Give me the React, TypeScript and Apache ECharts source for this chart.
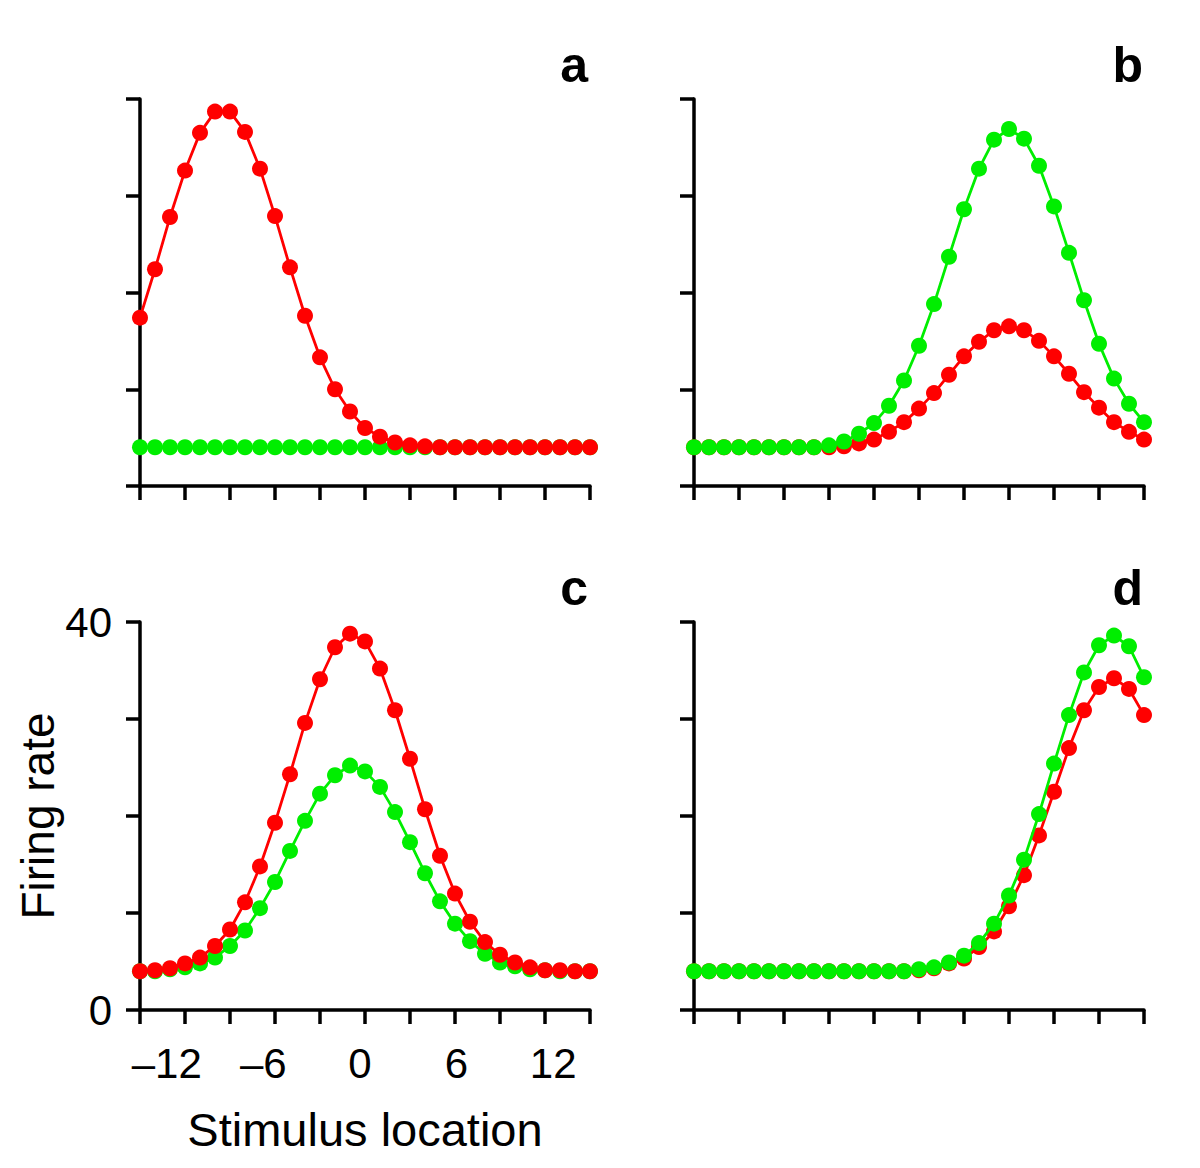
import React, { useEffect, useRef } from "react";
import * as echarts from "echarts";

// Stimulus locations (x) shared by every panel
const stimulusX = [
  -15, -14, -13, -12, -11, -10, -9, -8, -7, -6, -5, -4, -3, -2, -1, 0,
  1, 2, 3, 4, 5, 6, 7, 8, 9, 10, 11, 12, 13, 14, 15,
];
const xTickLabels = [-12, -6, 0, 6, 12];
const yTickLabels = [0, 40];
const panelLabels = ["a", "b", "c", "d"];

// Panel a
const aRed = [
  17.4, 22.4, 27.8, 32.6, 36.5, 38.7, 38.7, 36.6, 32.8, 27.9, 22.6, 17.6, 13.3, 10.0, 7.7, 6.0,
  5.1, 4.5, 4.2, 4.1, 4.0, 4.0, 4.0, 4.0, 4.0, 4.0, 4.0, 4.0, 4.0, 4.0, 4.0,
];
const aGreen = [
  4.0, 4.0, 4.0, 4.0, 4.0, 4.0, 4.0, 4.0, 4.0, 4.0, 4.0, 4.0, 4.0, 4.0, 4.0, 4.0,
  4.0, 4.0, 4.0, 4.0, 4.0, 4.0, 4.0, 4.0, 4.0, 4.0, 4.0, 4.0, 4.0, 4.0, 4.0,
];

// Panel b
const bRed = [
  4.0, 4.0, 4.0, 4.0, 4.0, 4.0, 4.0, 4.0, 4.0, 4.0, 4.1, 4.4, 4.8, 5.6, 6.6, 8.0,
  9.6, 11.5, 13.4, 14.9, 16.1, 16.5, 16.1, 15.0, 13.4, 11.6, 9.7, 8.1, 6.6, 5.6, 4.8,
];
const bGreen = [
  4.0, 4.0, 4.0, 4.0, 4.0, 4.0, 4.0, 4.0, 4.0, 4.2, 4.6, 5.4, 6.5, 8.3, 10.9, 14.5,
  18.8, 23.7, 28.6, 32.8, 35.8, 36.9, 35.9, 33.1, 28.9, 24.1, 19.2, 14.7, 11.1, 8.5, 6.6,
];

// Panel c
const cRed = [
  4.0, 4.1, 4.3, 4.8, 5.4, 6.6, 8.3, 11.1, 14.8, 19.3, 24.3, 29.6, 34.1, 37.4, 38.8, 38.0,
  35.2, 30.9, 25.9, 20.7, 15.9, 12.0, 9.1, 7.0, 5.7, 4.9, 4.4, 4.1, 4.1, 4.0, 4.0,
];
const cGreen = [
  4.0, 4.0, 4.2, 4.4, 4.8, 5.4, 6.6, 8.2, 10.5, 13.2, 16.4, 19.5, 22.3, 24.2, 25.2, 24.6,
  23.0, 20.4, 17.3, 14.1, 11.2, 8.9, 7.1, 5.8, 4.9, 4.5, 4.2, 4.1, 4.0, 4.0, 4.0,
];

// Panel d
const dRed = [
  4.0, 4.0, 4.0, 4.0, 4.0, 4.0, 4.0, 4.0, 4.0, 4.0, 4.0, 4.0, 4.0, 4.0, 4.0, 4.1,
  4.3, 4.8, 5.3, 6.5, 8.1, 10.7, 13.9, 18.0, 22.5, 27.0, 30.9, 33.3, 34.2, 33.1, 30.4,
];
const dGreen = [
  4.0, 4.0, 4.0, 4.0, 4.0, 4.0, 4.0, 4.0, 4.0, 4.0, 4.0, 4.0, 4.0, 4.0, 4.0, 4.2,
  4.4, 4.9, 5.6, 6.9, 8.9, 11.8, 15.5, 20.2, 25.4, 30.4, 34.8, 37.6, 38.6, 37.5, 34.3,
];

const RED = "#ff0000";
const GREEN = "#00ee00";
const FONT = "'Liberation Sans', Arial, Helvetica, sans-serif";

export default function App() {
  const ref = useRef<HTMLDivElement>(null);

  useEffect(() => {
    if (!ref.current) return;
    const chart = echarts.init(ref.current, null, { renderer: "svg" });

    const grids = [
      { left: 140, top: 99, width: 450, height: 387 },
      { left: 694, top: 99, width: 450, height: 387 },
      { left: 140, top: 622, width: 450, height: 388 },
      { left: 694, top: 622, width: 450, height: 388 },
    ];

    const axisLine = { show: true, onZero: false, lineStyle: { color: "#000", width: 3.5 } };
    const axisTick = { show: true, inside: false, length: 14, lineStyle: { color: "#000", width: 3.5 } };

    const xAxes: any[] = grids.map((_, i) => ({
      type: "value",
      gridIndex: i,
      min: -15,
      max: 15,
      interval: 3,
      axisLine,
      axisTick,
      axisLabel: { show: false },
      splitLine: { show: false },
      ...(i === 2
        ? {
            name: "Stimulus location",
            nameLocation: "middle",
            nameGap: 96,
            nameTextStyle: { fontSize: 47, color: "#000", fontFamily: FONT },
          }
        : {}),
    }));
    // label-only axis for panel c (labels as placed in the original figure)
    xAxes.push({
      type: "value",
      gridIndex: 2,
      position: "bottom",
      min: -13.66,
      max: 14.29,
      axisLine: { show: false, onZero: false },
      axisTick: { show: false },
      splitLine: { show: false },
      axisLabel: {
        show: true,
        customValues: xTickLabels,
        formatter: (v: number) => String(v).replace("-", "\u2013"),
        fontSize: 42,
        color: "#000",
        fontFamily: FONT,
        margin: 32,
      },
    });

    const yAxes: any[] = grids.map((_, i) => ({
      type: "value",
      gridIndex: i,
      min: 0,
      max: 40,
      interval: 10,
      axisLine,
      axisTick,
      splitLine: { show: false },
      axisLabel:
        i === 2
          ? {
              show: true,
              customValues: yTickLabels,
              fontSize: 42,
              color: "#000",
              fontFamily: FONT,
              margin: 28,
            }
          : { show: false },
      ...(i === 2
        ? {
            name: "Firing rate",
            nameLocation: "middle",
            nameGap: 75,
            nameRotate: 90,
            nameTextStyle: { fontSize: 46, color: "#000", fontFamily: FONT },
          }
        : {}),
    }));

    const mk = (vals: number[], color: string, gi: number, z: number) => ({
      type: "line",
      xAxisIndex: gi,
      yAxisIndex: gi,
      data: stimulusX.map((x, k) => [x, vals[k]]),
      symbol: "circle",
      symbolSize: 16,
      showSymbol: true,
      showAllSymbol: true,
      lineStyle: { color, width: 2.8 },
      itemStyle: { color },
      emphasis: { disabled: true },
      silent: true,
      z,
    });

    const series = [
      mk(aGreen, GREEN, 0, 2),
      mk(aRed, RED, 0, 3),
      mk(bRed, RED, 1, 2),
      mk(bGreen, GREEN, 1, 3),
      mk(cGreen, GREEN, 2, 2),
      mk(cRed, RED, 2, 3),
      mk(dRed, RED, 3, 2),
      mk(dGreen, GREEN, 3, 3),
    ];

    const titlePos = [
      { right: 612, top: 40 },
      { right: 57, top: 40 },
      { right: 612, top: 563 },
      { right: 57, top: 563 },
    ];

    chart.setOption({
      animation: false,
      backgroundColor: "#ffffff",
      title: panelLabels.map((t, i) => ({
        text: t,
        ...titlePos[i],
        padding: 0,
        textStyle: { fontSize: 50, fontWeight: "bold", color: "#000", fontFamily: FONT },
      })),
      grid: grids,
      xAxis: xAxes,
      yAxis: yAxes,
      series,
    });

    return () => chart.dispose();
  }, []);

  return (
    <div
      ref={ref}
      style={{ position: "absolute", left: 0, top: 0, width: 1200, height: 1168, background: "#fff" }}
    />
  );
}
